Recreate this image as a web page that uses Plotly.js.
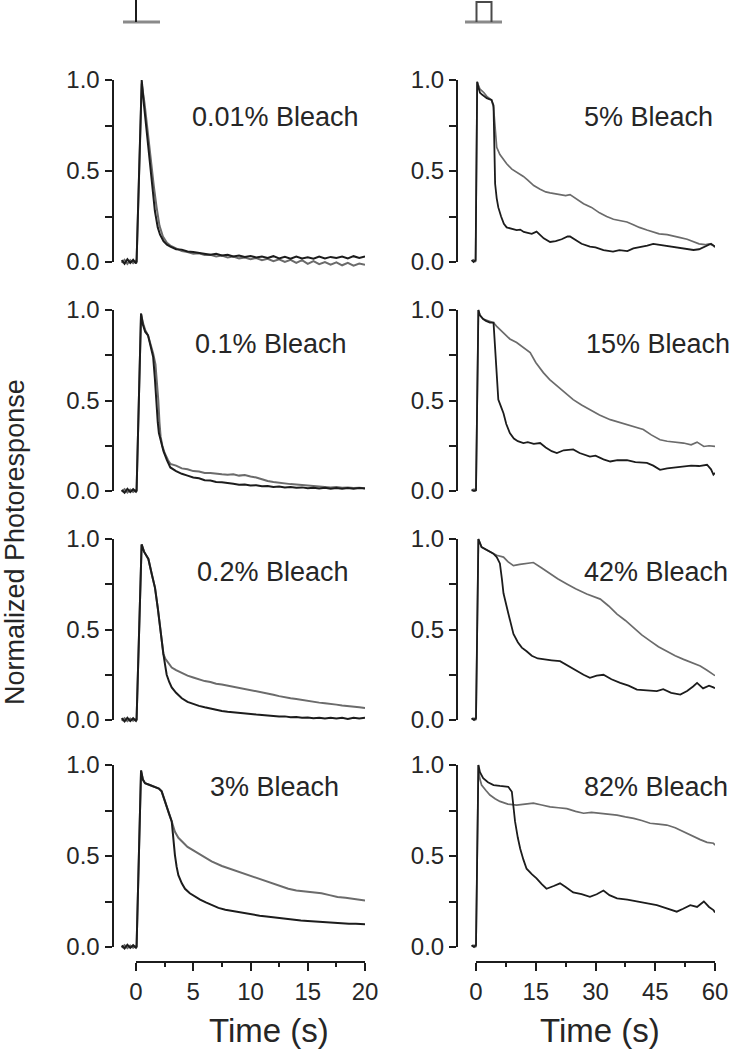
<!DOCTYPE html>
<html>
<head>
<meta charset="utf-8">
<script src="https://cdn.plot.ly/plotly-3.0.1.min.js"></script>
<style>html,body{margin:0;padding:0;background:#fff}#chart{width:729px;height:1050px}</style>
</head>
<body>
<div id="chart"></div>
<script>
// ---------- DATA (time in s, normalized photoresponse) ----------
const bleachLabels = ["0.01% Bleach", "0.1% Bleach", "0.2% Bleach", "3% Bleach",
                      "5% Bleach", "15% Bleach", "42% Bleach", "82% Bleach"];
const leftTickVals = [0, 5, 10, 15, 20];
const leftTickText = ["0", "5", "10", "15", "20"];
const leftMinorVals = [2.5, 7.5, 12.5, 17.5];
const rightTickVals = [0, 15, 30, 45, 60];
const rightTickText = ["0", "15", "30", "45", "60"];
const rightMinorVals = [7.5, 22.5, 37.5, 52.5];
const yTickVals = [0, 0.25, 0.5, 0.75, 1];
const yTickText = ["0.0", "", "0.5", "", "1.0"];
const xTitle = "Time (s)";
const yTitle = "Normalized Photoresponse";

// 0.01% bleach
const b001BlackT = [-1.25,-1,-0.75,-0.5,-0.25,0,0.05,0.5,0.7,0.95,1.2,1.4,1.65,1.9,2.1,2.4,2.7,3,3.5,4,4.5,5,5.5,6,6.5,7,7.5,8,8.5,9,9.5,10,10.5,11,11.5,12,12.5,13,13.5,14,14.5,15,15.5,16,16.5,17,17.5,18,18.5,19,19.5,20];
const b001BlackV = [0.01,-0.01,0.015,-0.005,0.012,-0.008,0,1.0,0.86,0.70,0.53,0.41,0.28,0.19,0.15,0.115,0.095,0.085,0.07,0.068,0.058,0.055,0.05,0.048,0.04,0.045,0.036,0.04,0.03,0.035,0.028,0.033,0.025,0.03,0.022,0.032,0.02,0.028,0.018,0.03,0.02,0.026,0.018,0.03,0.02,0.028,0.022,0.03,0.02,0.032,0.022,0.03];
const b001GrayT = [-1.25,-1,-0.75,-0.5,-0.25,0,0.05,0.5,0.75,1,1.3,1.55,1.8,2.05,2.35,2.7,3,3.5,4,4.5,5,5.5,6,6.5,7,7.5,8,8.5,9,9.5,10,10.5,11,11.5,12,12.5,13,13.5,14,14.5,15,15.5,16,16.5,17,17.5,18,18.5,19,19.5,20];
const b001GrayV = [-0.005,0.012,-0.01,0.01,-0.006,0.008,0,0.98,0.87,0.72,0.55,0.42,0.30,0.20,0.14,0.105,0.09,0.075,0.06,0.055,0.045,0.048,0.038,0.04,0.03,0.035,0.025,0.03,0.02,0.025,0.015,0.022,0.01,0.018,0.005,0.015,0,0.012,-0.005,0.01,-0.01,0.005,-0.012,0,-0.015,-0.002,-0.018,-0.005,-0.02,-0.008,-0.015];

// 0.1% bleach
const b01BlackT = [-1.25,-1,-0.75,-0.5,-0.25,0,0.05,0.44,0.6,0.8,1.05,1.3,1.5,1.65,1.75,1.9,2,2.2,2.4,2.7,3,3.5,4,4.5,5,5.5,6,6.5,7,7.5,8,8.5,9,9.5,10,10.5,11,11.5,12,12.5,13,13.5,14,14.5,15,15.5,16,16.5,17,17.5,18,18.5,19,19.5,20];
const b01BlackV = [0.005,-0.01,0.012,-0.006,0.01,-0.004,0,0.98,0.92,0.88,0.86,0.80,0.74,0.62,0.50,0.38,0.32,0.26,0.22,0.17,0.13,0.11,0.095,0.085,0.075,0.07,0.06,0.058,0.05,0.048,0.042,0.04,0.035,0.036,0.03,0.032,0.026,0.028,0.022,0.025,0.02,0.022,0.018,0.02,0.015,0.018,0.014,0.018,0.012,0.016,0.013,0.017,0.012,0.016,0.014];
const b01GrayT = [-1.25,-1,-0.75,-0.5,-0.25,0,0.05,0.44,0.6,0.8,1.05,1.3,1.5,1.7,1.85,1.95,2.05,2.15,2.3,2.5,2.8,3,3.5,4,4.5,5,5.5,6,6.5,7,7.5,8,8.5,9,9.5,10,10.5,11,11.5,12,12.5,13,13.5,14,14.5,15,15.5,16,16.5,17,17.5,18,18.5,19,19.5,20];
const b01GrayV = [-0.004,0.01,-0.008,0.008,-0.005,0.006,0,0.98,0.93,0.89,0.86,0.81,0.76,0.70,0.60,0.50,0.38,0.30,0.25,0.21,0.17,0.15,0.14,0.125,0.12,0.11,0.108,0.10,0.10,0.095,0.092,0.09,0.092,0.085,0.088,0.08,0.075,0.065,0.055,0.05,0.045,0.042,0.038,0.036,0.033,0.03,0.028,0.025,0.024,0.02,0.022,0.018,0.02,0.016,0.018,0.015];

// 0.2% bleach
const b02BlackT = [-1.25,-1,-0.75,-0.5,-0.25,0,0.05,0.49,0.7,1.08,1.4,1.66,1.9,2.1,2.25,2.39,2.55,2.68,2.9,3.12,3.5,4,4.5,5,5.5,6,6.5,7,7.5,8,8.5,9,9.5,10,10.5,11,11.5,12,12.5,13,13.5,14,14.5,15,15.5,16,16.5,17,17.5,18,18.5,19,19.5,20];
const b02BlackV = [0.01,-0.008,0.012,-0.006,0.01,-0.005,0,0.97,0.93,0.89,0.80,0.73,0.62,0.51,0.43,0.365,0.30,0.25,0.21,0.18,0.15,0.12,0.10,0.088,0.078,0.07,0.062,0.056,0.05,0.046,0.042,0.04,0.035,0.033,0.03,0.028,0.024,0.022,0.02,0.02,0.015,0.016,0.012,0.014,0.01,0.012,0.008,0.012,0.008,0.012,0.006,0.012,0.008,0.012];
const b02GrayT = [-1.25,-1,-0.75,-0.5,-0.25,0,0.05,0.49,0.7,1.08,1.4,1.66,1.9,2.1,2.25,2.39,2.55,2.68,2.9,3.12,3.5,4,4.5,5,5.5,6,6.5,7,7.5,8,8.5,9,9.5,10,10.5,11,11.5,12,12.5,13,13.5,14,14.5,15,15.5,16,16.5,17,17.5,18,18.5,19,19.5,20];
const b02GrayV = [-0.004,0.01,-0.006,0.008,-0.004,0.006,0,0.97,0.93,0.89,0.80,0.73,0.62,0.51,0.43,0.365,0.34,0.33,0.31,0.29,0.275,0.258,0.245,0.235,0.225,0.215,0.21,0.20,0.196,0.19,0.183,0.178,0.172,0.168,0.16,0.155,0.148,0.14,0.132,0.125,0.12,0.116,0.11,0.105,0.10,0.096,0.092,0.09,0.085,0.08,0.078,0.072,0.07,0.066];

// 3% bleach
const b3BlackT = [-1.25,-1,-0.75,-0.5,-0.25,0,0.05,0.44,0.6,0.79,1.2,1.66,2,2.24,2.5,2.68,2.9,3.12,3.25,3.4,3.55,3.7,4,4.28,4.7,5.15,5.6,6.1,6.6,7.2,7.8,8.4,9,9.6,10.2,10.8,11.4,12,12.6,13.2,13.8,14.4,15,15.6,16.2,16.8,17.4,18,18.6,19.2,20];
const b3BlackV = [0.008,-0.008,0.012,-0.005,0.01,-0.004,0,0.97,0.92,0.90,0.89,0.88,0.87,0.855,0.81,0.78,0.73,0.69,0.60,0.505,0.44,0.395,0.35,0.32,0.295,0.276,0.26,0.245,0.23,0.215,0.205,0.198,0.19,0.183,0.178,0.172,0.168,0.163,0.158,0.152,0.15,0.145,0.143,0.14,0.136,0.135,0.132,0.13,0.128,0.128,0.125];
const b3GrayT = [-1.25,-1,-0.75,-0.5,-0.25,0,0.05,0.44,0.6,0.79,1.2,1.66,2,2.24,2.5,2.68,2.9,3.12,3.25,3.4,3.7,3.99,4.5,5.15,5.8,6.6,7.5,8.36,9.3,10.4,11.1,11.8,12.5,13.3,14,14.7,15.4,16.2,16.9,17.6,18.3,19.1,20];
const b3GrayV = [-0.004,0.01,-0.006,0.008,-0.004,0.006,0,0.97,0.92,0.90,0.89,0.88,0.87,0.855,0.81,0.78,0.73,0.69,0.66,0.633,0.60,0.58,0.55,0.525,0.50,0.47,0.445,0.426,0.405,0.38,0.365,0.35,0.335,0.32,0.31,0.305,0.30,0.295,0.285,0.275,0.27,0.262,0.255];

// 5% bleach
const b5BlackT = [-1.1,-0.6,-0.1,0.3,0.6,1,1.5,2,2.7,3.3,3.9,4.4,4.6,4.8,5.2,5.6,6.3,7,7.7,8.5,9.3,10.2,11.1,12,13,14,15.2,16,17,18.6,20,21.5,23,23.6,25,26.5,28.6,30,32,34.4,36,38,39.5,41,43,44.5,46,48,49.6,51,53,54.6,56,57,58,59,60];
const b5BlackV = [0.01,0,0.01,0.99,0.96,0.93,0.92,0.91,0.90,0.895,0.89,0.86,0.65,0.43,0.35,0.30,0.25,0.21,0.19,0.185,0.18,0.175,0.178,0.165,0.16,0.155,0.167,0.15,0.13,0.11,0.115,0.125,0.14,0.14,0.12,0.10,0.084,0.08,0.065,0.057,0.065,0.06,0.075,0.08,0.09,0.10,0.095,0.09,0.084,0.08,0.075,0.066,0.07,0.08,0.093,0.10,0.085];
const b5GrayT = [-1.1,-0.6,-0.1,0.3,0.6,1,1.5,2,2.7,3.3,3.9,4.4,4.8,5.2,6,7.7,9,10.5,11.9,13,14.5,16.1,17.5,18.6,20,21.5,22.5,23.6,25,27,29,31,32.8,34.5,36,37.9,39.5,41,42.9,44.5,46,48,49.6,51,53,54.6,56,57.5,58.5,59.6,60];
const b5GrayV = [0.005,0.012,0,0.99,0.97,0.95,0.94,0.93,0.91,0.90,0.89,0.85,0.72,0.63,0.59,0.54,0.51,0.49,0.47,0.45,0.42,0.40,0.385,0.38,0.375,0.37,0.365,0.37,0.35,0.32,0.30,0.27,0.25,0.235,0.228,0.22,0.205,0.19,0.176,0.165,0.155,0.15,0.14,0.135,0.125,0.11,0.10,0.095,0.10,0.09,0.08];

// 15% bleach
const b15BlackT = [-1.1,-0.5,0,0.6,1,1.8,2.5,3.5,4.4,4.8,5.2,5.6,6.2,6.9,7.6,8.5,9.5,10.5,11.9,13,14.5,16.1,17.5,19,20.3,22,24.4,26,28.6,30,32,33.7,35.5,37.9,40,42.9,44.5,46.2,48,50,52.1,54,56,58,59,59.6,60];
const b15BlackV = [0.005,0,0.005,1.0,0.97,0.95,0.94,0.93,0.93,0.80,0.62,0.505,0.47,0.43,0.37,0.32,0.29,0.275,0.265,0.27,0.26,0.265,0.24,0.22,0.21,0.225,0.23,0.21,0.19,0.195,0.175,0.163,0.17,0.17,0.16,0.155,0.14,0.117,0.125,0.13,0.135,0.14,0.138,0.145,0.12,0.09,0.10];
const b15GrayT = [-1.1,-0.5,0,0.6,1,1.8,2.5,3.5,4.4,5.2,6,7,8.5,10.2,12,13.6,15,16.9,18.5,20.3,22.5,24.4,26.5,28.6,31,33.7,36,37.9,40,42,44,46.2,48,50,52.1,54,55.5,57.2,58.5,60];
const b15GrayV = [0.005,0.01,0,1.0,0.97,0.95,0.945,0.935,0.93,0.91,0.894,0.87,0.84,0.82,0.79,0.765,0.71,0.654,0.615,0.58,0.54,0.505,0.475,0.45,0.42,0.394,0.38,0.367,0.355,0.34,0.31,0.283,0.275,0.27,0.265,0.255,0.27,0.246,0.25,0.246];

// 42% bleach
const b42BlackT = [-1.1,-0.5,0,0.6,1.4,2.5,3.5,4.3,5.2,6,6.5,6.9,8.1,9.4,10.5,11.5,12.7,14,15.5,16.9,19,21.1,23,25.3,27,28.6,30.3,32,34,36.2,38.3,40.4,43,45.4,47,49,51.3,53,54.5,55.5,57,58.5,59.6,60];
const b42BlackV = [0.01,0,0.01,1.0,0.955,0.94,0.93,0.92,0.90,0.865,0.78,0.70,0.59,0.475,0.43,0.40,0.38,0.355,0.34,0.335,0.33,0.325,0.30,0.27,0.25,0.233,0.245,0.25,0.225,0.205,0.19,0.168,0.165,0.16,0.17,0.15,0.14,0.16,0.185,0.205,0.175,0.19,0.18,0.175];
const b42GrayT = [-1.1,-0.5,0,0.6,1.4,2.5,3.5,4.3,5.2,6,6.9,8,9.4,11,12.5,14.4,16.5,18.6,20.5,22.8,25,27.8,29.5,31.2,33.3,35.4,37.5,39.6,41.6,43.7,45.8,47.9,50,52.1,54.2,56.3,58,59.6,60];
const b42GrayV = [0.005,0.01,0,1.0,0.955,0.94,0.93,0.92,0.91,0.905,0.90,0.875,0.853,0.86,0.865,0.87,0.84,0.807,0.78,0.752,0.725,0.696,0.68,0.668,0.63,0.585,0.55,0.51,0.47,0.437,0.405,0.38,0.355,0.335,0.315,0.298,0.275,0.25,0.245];

// 82% bleach
const b82BlackT = [-1.1,-0.5,0,0.6,1,1.8,3,4.4,6,7,8.1,9,9.4,9.8,10.5,11.1,11.9,12.7,14,15.2,16.5,17.7,19.5,21.1,22.5,24.4,26.5,28.6,30.3,32,33.5,35.4,38,40.4,43,45.4,47.5,50.4,52,53.8,55.5,57.2,58.5,59.6,60];
const b82BlackV = [0.01,0,0.01,1.0,0.96,0.927,0.905,0.89,0.885,0.883,0.88,0.853,0.78,0.69,0.60,0.54,0.48,0.43,0.40,0.377,0.345,0.32,0.335,0.35,0.33,0.30,0.29,0.276,0.29,0.31,0.285,0.267,0.26,0.25,0.24,0.23,0.215,0.194,0.21,0.23,0.22,0.25,0.22,0.203,0.19];
const b82GrayT = [-1.1,-0.5,0,0.6,0.9,1.4,2.5,3.5,4.8,6,8,10.2,12.3,14.4,16.5,18.6,20.7,22.8,25,27,29,31.2,33.3,35.4,37.5,39.6,41.6,43.7,45.8,47.9,50,52.1,54.2,56.3,58,59.6,60];
const b82GrayV = [0.005,0.01,0,1.0,0.93,0.89,0.86,0.835,0.815,0.80,0.785,0.78,0.785,0.79,0.78,0.77,0.765,0.76,0.745,0.735,0.74,0.735,0.73,0.725,0.715,0.707,0.695,0.68,0.675,0.67,0.655,0.633,0.61,0.59,0.575,0.57,0.56];

// ---------- BUILD ----------
const W = 729, H = 1050;
const px = x => x / W;
const py = y => 1 - y / H;

const series = [
  [b001BlackT, b001BlackV, b001GrayT, b001GrayV],
  [b01BlackT, b01BlackV, b01GrayT, b01GrayV],
  [b02BlackT, b02BlackV, b02GrayT, b02GrayV],
  [b3BlackT, b3BlackV, b3GrayT, b3GrayV],
  [b5BlackT, b5BlackV, b5GrayT, b5GrayV],
  [b15BlackT, b15BlackV, b15GrayT, b15GrayV],
  [b42BlackT, b42BlackV, b42GrayT, b42GrayV],
  [b82BlackT, b82BlackV, b82GrayT, b82GrayV]
];

// pixel layout of the panels
const colX = [[136, 365], [476, 715]];       // pixel of x=0 and of x=end
const colEnd = [20, 60];
const colYAxisX = [112.5, 457];
const rowY = [[80, 262], [310, 491], [539, 720], [765, 947]]; // pixel of 1.0 and 0.0
const xAxisLineY = 962;
const labelPos = [[190, 117], [193, 344], [195, 572], [208, 787], [582, 117], [584, 344], [582, 572], [582, 787]];
const YPAD = 0.1; // extra value room for the (invisible) data axes

const FONT = 'Liberation Sans, Arial, sans-serif';
const INK = '#1c1c1c';
const GRAY = '#6b6b6b';
const TXT = '#262626';

const data = [];
const layout = {
  width: W, height: H,
  margin: {l: 0, r: 0, t: 0, b: 0},
  paper_bgcolor: '#fff', plot_bgcolor: 'rgba(0,0,0,0)',
  showlegend: false,
  font: {family: FONT, color: TXT},
  annotations: [],
  shapes: []
};
const sfx = k => (k === 1 ? '' : String(k));

for (let i = 0; i < 8; i++) {
  const col = i < 4 ? 0 : 1;
  const row = i % 4;
  const n = i + 1;
  const s = series[i];
  const pxPerUnit = (colX[col][1] - colX[col][0]) / colEnd[col];
  const xmin = -(colX[col][0] - colYAxisX[col]) / pxPerUnit;
  const hpx = rowY[row][1] - rowY[row][0];
  layout['xaxis' + sfx(n)] = {
    domain: [px(colYAxisX[col]), px(colX[col][1])], range: [xmin, colEnd[col]],
    visible: false, fixedrange: true, anchor: 'y' + sfx(n)
  };
  layout['yaxis' + sfx(n)] = {
    domain: [py(rowY[row][1] + YPAD * hpx), py(rowY[row][0] - YPAD * hpx)], range: [-YPAD, 1 + YPAD],
    visible: false, fixedrange: true, anchor: 'x' + sfx(n)
  };
  data.push({x: s[2], y: s[3], xaxis: 'x' + sfx(n), yaxis: 'y' + sfx(n), type: 'scatter', mode: 'lines',
             line: {color: GRAY, width: col === 0 ? 2 : 1.7}, hoverinfo: 'skip'});
  data.push({x: s[0], y: s[1], xaxis: 'x' + sfx(n), yaxis: 'y' + sfx(n), type: 'scatter', mode: 'lines',
             line: {color: INK, width: col === 0 ? 2 : 1.8}, hoverinfo: 'skip'});

  const yk = 8 + n;
  layout['yaxis' + yk] = {
    domain: [py(rowY[row][1]), py(rowY[row][0])],
    range: [0, 1], fixedrange: true,
    anchor: 'free', position: px(colYAxisX[col]),
    showline: true, linecolor: INK, linewidth: 2,
    ticks: 'outside', ticklen: 7, tickwidth: 2, tickcolor: INK,
    tickmode: 'array', tickvals: yTickVals, ticktext: yTickText,
    tickfont: {family: FONT, size: 24, color: TXT},
    showgrid: false, zeroline: false
  };
  data.push({x: [], y: [], xaxis: 'x' + sfx(n), yaxis: 'y' + yk, type: 'scatter', mode: 'lines', hoverinfo: 'skip'});

  layout.annotations.push({
    xref: 'paper', yref: 'paper', x: px(labelPos[i][0]), y: py(labelPos[i][1]),
    xanchor: 'left', yanchor: 'middle', showarrow: false,
    text: bleachLabels[i], font: {family: FONT, size: 27, color: TXT}
  });
}

for (let col = 0; col < 2; col++) {
  const xk = 9 + col;
  layout['xaxis' + xk] = {
    domain: [px(colX[col][0]), px(colX[col][1])],
    range: [0, colEnd[col]], fixedrange: true,
    anchor: 'free', position: py(xAxisLineY),
    showline: true, linecolor: INK, linewidth: 2,
    ticks: 'outside', ticklen: 8, tickwidth: 2, tickcolor: INK,
    tickmode: 'array',
    tickvals: col === 0 ? leftTickVals : rightTickVals,
    ticktext: col === 0 ? leftTickText : rightTickText,
    minor: {tickmode: 'array', tickvals: col === 0 ? leftMinorVals : rightMinorVals,
            ticks: 'outside', ticklen: 4, tickwidth: 2, tickcolor: INK, showgrid: false},
    tickfont: {family: FONT, size: 24, color: TXT},
    showgrid: false, zeroline: false
  };
  data.push({x: [], y: [], xaxis: 'x' + xk, yaxis: 'y' + (col === 0 ? 4 : 8), type: 'scatter', mode: 'lines', hoverinfo: 'skip'});
}

layout.annotations.push({xref: 'paper', yref: 'paper', x: px(269), y: py(1030), xanchor: 'center', yanchor: 'middle',
  showarrow: false, text: xTitle, font: {family: FONT, size: 33, color: TXT}});
layout.annotations.push({xref: 'paper', yref: 'paper', x: px(600), y: py(1030), xanchor: 'center', yanchor: 'middle',
  showarrow: false, text: xTitle, font: {family: FONT, size: 33, color: TXT}});
layout.annotations.push({xref: 'paper', yref: 'paper', x: px(15), y: py(542), xanchor: 'center', yanchor: 'middle',
  showarrow: false, textangle: -90, text: yTitle, font: {family: FONT, size: 27, color: TXT}});

// stimulus icons
const sh = (x0, y0, x1, y1, color, width) => ({type: 'line', xref: 'paper', yref: 'paper',
  x0: px(x0), y0: py(y0), x1: px(x1), y1: py(y1), line: {color: color, width: width}});
layout.shapes.push(sh(123, 22, 160, 22, '#8a8a8a', 3));
layout.shapes.push(sh(136, 0, 136, 22, INK, 2));
layout.shapes.push(sh(465, 22, 502, 22, '#8a8a8a', 3));
layout.shapes.push({type: 'path', xref: 'paper', yref: 'paper',
  path: 'M ' + px(476.5) + ' ' + py(22) + ' L ' + px(476.5) + ' ' + py(2) + ' L ' + px(491.5) + ' ' + py(2) + ' L ' + px(491.5) + ' ' + py(22),
  line: {color: '#4a4a4a', width: 2}});

Plotly.newPlot('chart', data, layout, {staticPlot: true, displayModeBar: false});
</script>
</body>
</html>
